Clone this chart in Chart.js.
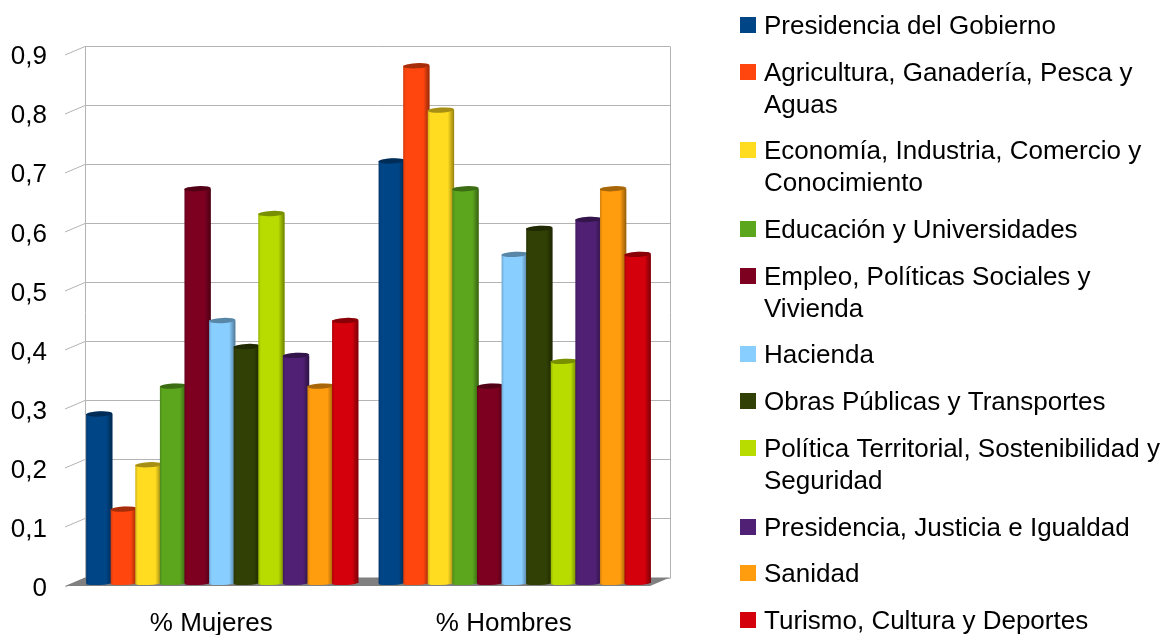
<!DOCTYPE html>
<html>
<head>
<meta charset="utf-8">
<title>Mujeres y hombres por consejería</title>
<script src="https://cdn.jsdelivr.net/npm/chart.js@4"></script>
<style>
  html, body { margin: 0; padding: 0; background: #fff; overflow: hidden; }
  canvas { display: block; }
</style>
</head>
<body>
<canvas id="chart" width="1166" height="635"></canvas>
<script>
// data
const categories = ['% Mujeres', '% Hombres'];
const seriesNames = [
    ['Presidencia del Gobierno'],
    ['Agricultura, Ganadería, Pesca y', 'Aguas'],
    ['Economía, Industria, Comercio y', 'Conocimiento'],
    ['Educación y Universidades'],
    ['Empleo, Políticas Sociales y', 'Vivienda'],
    ['Hacienda'],
    ['Obras Públicas y Transportes'],
    ['Política Territorial, Sostenibilidad y', 'Seguridad'],
    ['Presidencia, Justicia e Igualdad'],
    ['Sanidad'],
    ['Turismo, Cultura y Deportes']
];
const mujeres = [0.286, 0.125, 0.2, 0.333, 0.667, 0.444, 0.4, 0.625, 0.385, 0.333, 0.444];
const hombres = [0.714, 0.875, 0.8, 0.667, 0.333, 0.556, 0.6, 0.375, 0.615, 0.667, 0.556];
const colors = ['#004586', '#ff460e', '#ffdc20', '#5ca61e', '#7e0021', '#88ceff',
                '#314004', '#b8dc00', '#4f2073', '#ff9d0e', '#d4000b'];

const FONT = 'Liberation Sans';
const FONT_SIZE = 26;
const DEPTH_X = 20, DEPTH_Y = 8.5;   // back wall offset from the front of the box
const GRID = '#b3b3b3';

// back wall, left side ticks and floor of the fake 3D box
const wallPlugin = {
    id: 'wall',
    beforeDatasetsDraw(chart) {
        const { ctx, chartArea: a, scales: { y } } = chart;
        ctx.save();
        ctx.strokeStyle = GRID;
        ctx.lineWidth = 1;
        ctx.beginPath();
        y.ticks.forEach(t => {
            const py = Math.round(y.getPixelForValue(t.value) - DEPTH_Y) + 0.5;
            ctx.moveTo(a.left, py + DEPTH_Y);
            ctx.lineTo(a.left + DEPTH_X, py);
            ctx.lineTo(a.right + DEPTH_X, py);
        });
        const top = Math.round(a.top - DEPTH_Y) + 0.5;
        const bottom = Math.round(a.bottom - DEPTH_Y) + 0.5;
        ctx.moveTo(a.left + DEPTH_X + 0.5, top);
        ctx.lineTo(a.left + DEPTH_X + 0.5, bottom);
        ctx.moveTo(a.right + DEPTH_X + 0.5, top);
        ctx.lineTo(a.right + DEPTH_X + 0.5, bottom);
        ctx.stroke();

        ctx.fillStyle = '#808080';
        ctx.beginPath();
        ctx.moveTo(a.left, a.bottom);
        ctx.lineTo(a.right, a.bottom);
        ctx.lineTo(a.right + DEPTH_X, a.bottom - DEPTH_Y);
        ctx.lineTo(a.left + DEPTH_X, a.bottom - DEPTH_Y);
        ctx.closePath();
        ctx.fill();
        ctx.restore();
    }
};

// bars stand in the middle of the box depth, shaded like cylinders.
// painted here so that later series overlap earlier ones
const cylinderPlugin = {
    id: 'cylinder',
    beforeDatasetDraw() {
        return false;
    },
    afterDatasetsDraw(chart) {
        const ctx = chart.ctx;
        ctx.save();
        ctx.translate(11, -3);
        chart.data.datasets.forEach((ds, i) => {
            chart.getDatasetMeta(i).data.forEach(bar => {
                const left = bar.x - bar.width / 2;
                const right = bar.x + bar.width / 2;
                const ry = 2.6;

                bar.draw(ctx);

                // bottom rounding in the plain colour
                ctx.fillStyle = ds.backgroundColor;
                ctx.beginPath();
                ctx.ellipse(bar.x, bar.base, bar.width / 2, 2, -0.05, 0, Math.PI * 2);
                ctx.fill();

                const shade = ctx.createLinearGradient(left, 0, right, 0);
                shade.addColorStop(0, 'rgba(0,0,0,0.18)');
                shade.addColorStop(0.1, 'rgba(0,0,0,0)');
                shade.addColorStop(0.76, 'rgba(0,0,0,0)');
                shade.addColorStop(1, 'rgba(0,0,0,0.42)');
                ctx.fillStyle = shade;
                ctx.beginPath();
                ctx.rect(left, bar.y, bar.width, bar.base - bar.y);
                ctx.ellipse(bar.x, bar.base, bar.width / 2, 2, -0.05, 0, Math.PI);
                ctx.fill();

                // top face
                ctx.fillStyle = ds.backgroundColor;
                ctx.beginPath();
                ctx.ellipse(bar.x, bar.y, bar.width / 2, ry, -0.05, 0, Math.PI * 2);
                ctx.fill();
                ctx.fillStyle = 'rgba(0,0,0,0.35)';
                ctx.fill();
            });
        });
        ctx.restore();
    }
};

// legend on the right, wrapped lines come from seriesNames
const sideLegendPlugin = {
    id: 'sideLegend',
    afterDraw(chart) {
        const ctx = chart.ctx;
        ctx.save();
        ctx.font = FONT_SIZE + 'px "' + FONT + '"';
        ctx.textBaseline = 'middle';
        ctx.textAlign = 'left';
        let y = 25;
        seriesNames.forEach((lines, i) => {
            ctx.fillStyle = colors[i];
            ctx.fillRect(740, Math.round(y - 8), 16, 16);
            ctx.fillStyle = '#000';
            lines.forEach(line => {
                ctx.fillText(line, 764, Math.round(y + 2));
                y += 31.8;
            });
            y += 15;
        });
        ctx.restore();
    }
};

const datasets = seriesNames.map((name, i) => ({
    label: name.join(' '),
    data: [mujeres[i], hombres[i]],
    backgroundColor: colors[i],
    borderWidth: 0
}));

new Chart(document.getElementById('chart').getContext('2d'), {
    type: 'bar',
    data: { labels: categories, datasets: datasets },
    plugins: [wallPlugin, cylinderPlugin, sideLegendPlugin],
    options: {
        responsive: false,
        animation: false,
        layout: { padding: { top: 54, right: 516, left: 0, bottom: 0 } },
        datasets: { bar: { categoryPercentage: 0.925, barPercentage: 1.07 } },
        plugins: { legend: { display: false }, title: { display: false }, tooltip: { enabled: false } },
        scales: {
            x: {
                afterFit(scale) { scale.height = 49; },
                grid: { display: false, drawTicks: false },
                border: { display: false },
                ticks: { color: '#000', padding: 22, font: { family: FONT, size: FONT_SIZE } }
            },
            y: {
                min: 0,
                max: 0.9,
                afterFit(scale) { scale.width = 65; },
                grid: { display: false, drawTicks: false },
                border: { display: false },
                ticks: {
                    stepSize: 0.1,
                    color: '#000',
                    padding: 18,
                    labelOffset: 3,
                    font: { family: FONT, size: FONT_SIZE },
                    callback: v => v === 0 ? '0' : v.toFixed(1).replace('.', ',')
                }
            }
        }
    }
});
</script>
</body>
</html>
